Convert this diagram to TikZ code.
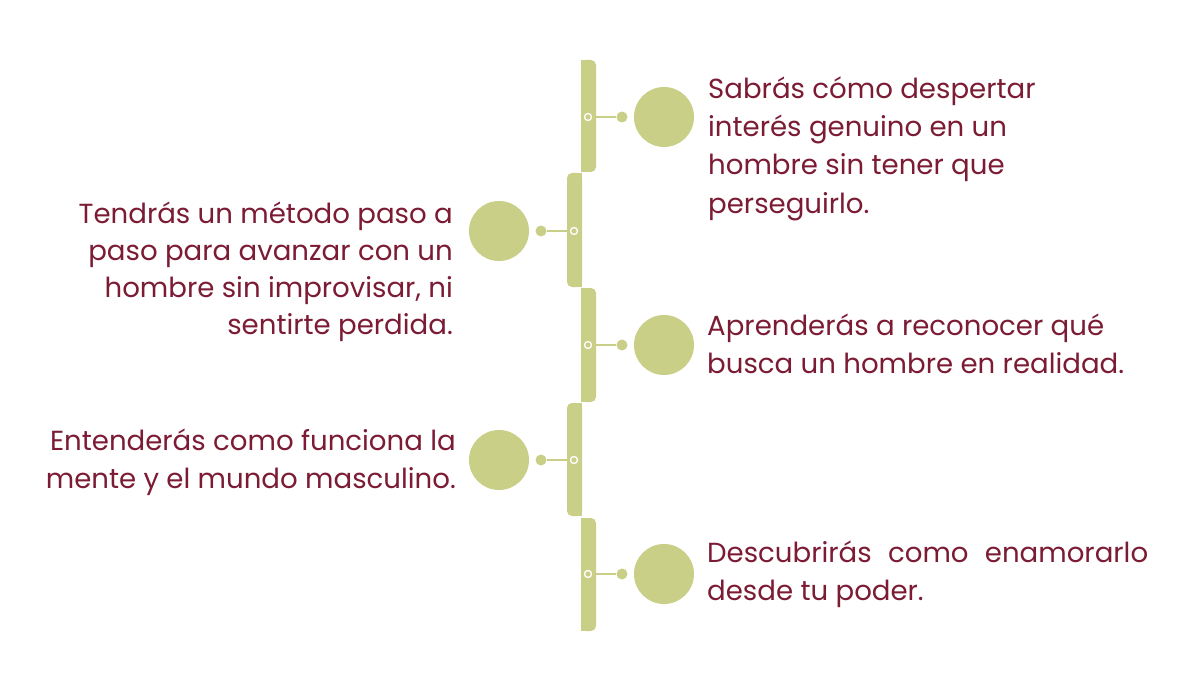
\documentclass[tikz,border=0pt]{standalone}
\usepackage{fontspec}
\setmainfont{Poppins}
\definecolor{leaf}{HTML}{C9CF87}
\definecolor{wine}{HTML}{7B1B34}
\begin{document}
\begin{tikzpicture}[x=1pt,y=-1pt,
  txt/.style={font=\fontsize{27.6}{38}\selectfont, text=wine, inner sep=0pt},
  big/.style={circle, fill=leaf, minimum size=60pt, inner sep=0pt},
  dot/.style={circle, fill=leaf, minimum size=11pt, inner sep=0pt},
  ring/.style={circle, draw=white, line width=1.3pt, fill=leaf, minimum size=7pt, inner sep=0pt},
  link/.style={draw=leaf, line width=2pt}]
\useasboundingbox[fill=white] (0,0) rectangle (1200,674);
% bar segments
\fill[leaf, rounded corners=5pt] (581,60) rectangle (596,172);
\fill[leaf] (581,60) rectangle (589,172);
\fill[leaf, rounded corners=5pt] (567,173) rectangle (582,287);
\fill[leaf] (575,173) rectangle (582,287);
\fill[leaf, rounded corners=5pt] (581,288) rectangle (596,402);
\fill[leaf] (581,288) rectangle (589,402);
\fill[leaf, rounded corners=5pt] (567,403) rectangle (582,516);
\fill[leaf] (575,403) rectangle (582,516);
\fill[leaf, rounded corners=5pt] (581,518) rectangle (596,631);
\fill[leaf] (581,518) rectangle (589,631);
% item 1
\node[big] (c1) at (664,117) {};
\node[dot] (d1) at (622,117) {};
\node[ring] (r1) at (588,117) {};
\draw[link] (r1) -- (d1);
% item 2
\node[big] (c2) at (499,231) {};
\node[dot] (d2) at (541,231) {};
\node[ring] (r2) at (574,231) {};
\draw[link] (r2) -- (d2);
% item 3
\node[big] (c3) at (664,345) {};
\node[dot] (d3) at (622,345) {};
\node[ring] (r3) at (588,345) {};
\draw[link] (r3) -- (d3);
% item 4
\node[big] (c4) at (499,460) {};
\node[dot] (d4) at (541,460) {};
\node[ring] (r4) at (574,460) {};
\draw[link] (r4) -- (d4);
% item 5
\node[big] (c5) at (664,574) {};
\node[dot] (d5) at (622,574) {};
\node[ring] (r5) at (588,574) {};
\draw[link] (r5) -- (d5);
% texts
\node[txt, anchor=base west] (t1a) at (708,99) {Sabrás cómo despertar};
\node[txt, anchor=base west] (t1b) at (708,137) {interés genuino en un};
\node[txt, anchor=base west] (t1c) at (708,175) {hombre sin tener que};
\node[txt, anchor=base west] (t1d) at (708,213) {perseguirlo.};
\node[txt, anchor=base east] (t2a) at (453,223) {Tendrás un método paso a};
\node[txt, anchor=base east] (t2b) at (453,260) {paso para avanzar con un};
\node[txt, anchor=base east] (t2c) at (453,297) {hombre sin improvisar, ni};
\node[txt, anchor=base east] (t2d) at (453,334) {sentirte perdida.};
\node[txt, anchor=base west] (t3a) at (707,335) {Aprenderás a reconocer qué};
\node[txt, anchor=base west] (t3b) at (707,373) {busca un hombre en realidad.};
\node[txt, anchor=base east] (t4a) at (456,450) {Entenderás como funciona la};
\node[txt, anchor=base east] (t4b) at (456,488) {mente y el mundo masculino.};
\node[txt, anchor=base west] (t5a) at (707,562) {\hbox to 441pt{Descubrirás\hfill como\hfill enamorarlo}};
\node[txt, anchor=base west] (t5b) at (707,600) {desde tu poder.};
\end{tikzpicture}
\end{document}
